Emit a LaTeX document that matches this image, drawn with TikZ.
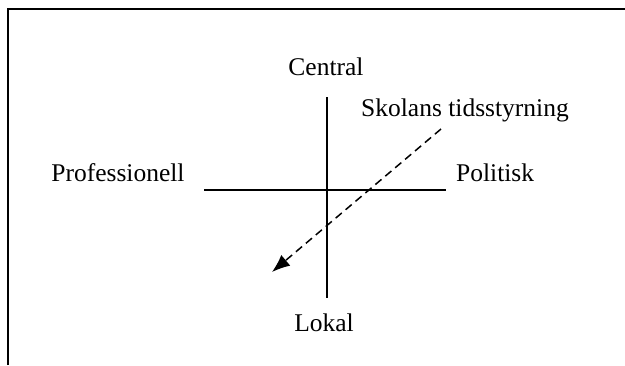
\documentclass[tikz,border=0pt]{standalone}
\usepackage{fontspec}
\setmainfont{Liberation Serif}
\usetikzlibrary{arrows.meta}
\begin{document}
\begin{tikzpicture}[x=1pt,y=-1pt,
  axis/.style={line width=1.5pt},
  lbl/.style={font=\fontsize{25.5}{30}\selectfont, inner sep=0pt, anchor=base}]
  \useasboundingbox (0,0) rectangle (625,365);
  \coordinate (corner) at (8,9);
  \coordinate (frameR) at (625,9);
  \coordinate (frameB) at (8,365);
  \draw[line width=2.6pt] (frameB) -- (corner) -- (frameR);
  % the two axes
  \coordinate (top) at (327,97);
  \coordinate (bot) at (327,298);
  \coordinate (left) at (204,190);
  \coordinate (right) at (446,190);
  \draw[axis] (top) -- (bot);
  \draw[axis] (left) -- (right);
  % school time steering
  \coordinate (from) at (441,129);
  \coordinate (to) at (272,272);
  \draw[axis, dash pattern=on 8pt off 5pt, -{Latex[length=18pt,width=14pt]}] (from) -- (to);
  \node[lbl] (central) at (326,75) {Central};
  \node[lbl] (lokal) at (324,331) {Lokal};
  \node[lbl] (prof) at (118,181) {Professionell};
  \node[lbl, anchor=base west] (pol) at (456,181) {Politisk};
  \node[lbl, anchor=base west] (skol) at (361,116) {Skolans tidsstyrning};
\end{tikzpicture}
\end{document}
